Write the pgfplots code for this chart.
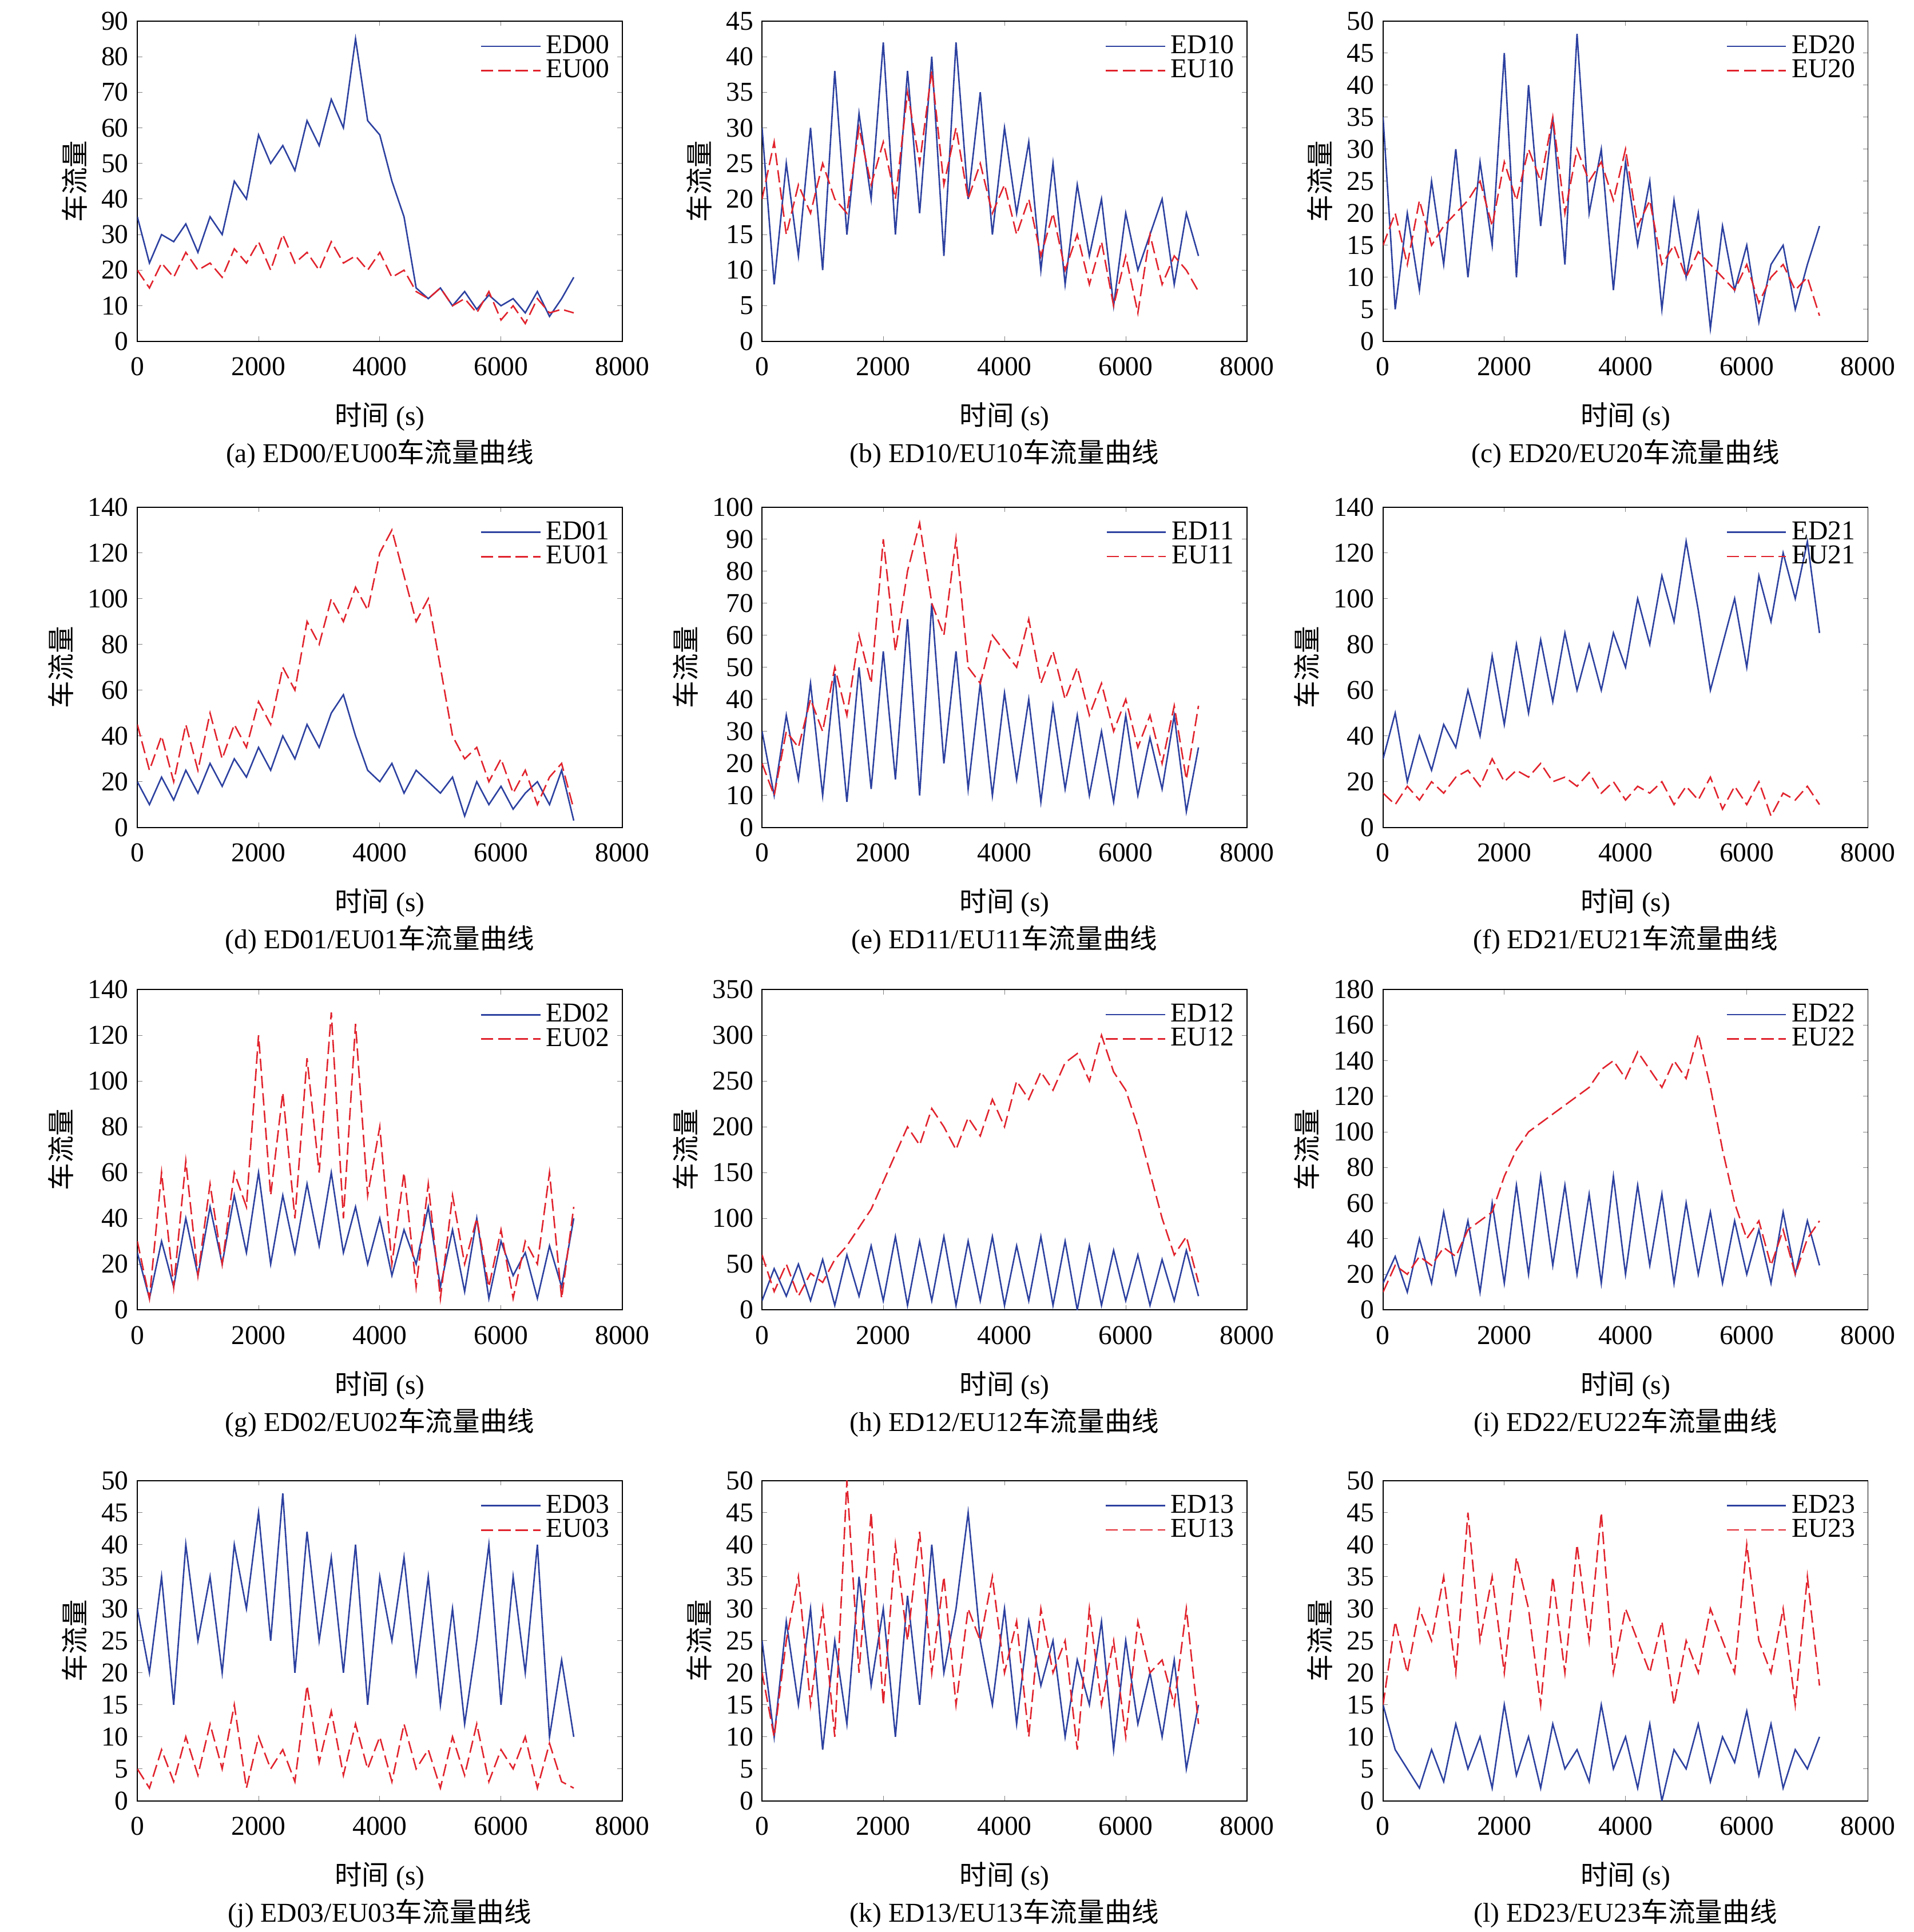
\documentclass[border=0pt]{standalone}
\usepackage{pgfplots}
\pgfplotsset{compat=1.18}
\usepackage{pgfplotstable}
\usepackage{fontspec}
\setmainfont{Liberation Serif}
\newfontfamily\cjk{Noto Sans CJK SC}
\definecolor{cb}{RGB}{45,65,160}
\definecolor{cr}{RGB}{225,35,45}
\pgfplotstableread{
d u
35 20
22 15
30 22
28 18
33 25
25 20
35 22
30 18
45 26
40 22
58 28
50 20
55 30
48 22
62 25
55 20
68 28
60 22
85 24
62 20
58 25
45 18
35 20
15 14
12 12
15 15
10 10
14 12
9 8
13 14
10 6
12 10
8 5
14 12
7 8
12 9
18 8
}\tA
\pgfplotstableread{
d u
30 20
8 28
25 15
12 22
30 18
10 25
38 20
15 18
32 30
20 22
42 28
15 20
38 35
18 25
40 38
12 22
42 30
20 20
35 25
15 18
30 22
18 15
28 20
10 12
25 18
8 10
22 15
12 8
20 14
5 5
18 12
10 4
15 15
20 8
8 12
18 10
12 7
}\tB
\pgfplotstableread{
d u
35 15
5 20
20 12
8 22
25 15
12 18
30 20
10 22
28 25
15 18
45 28
10 22
40 30
18 25
35 35
12 20
48 30
20 25
30 28
8 22
28 30
15 18
25 22
5 12
22 15
10 10
20 14
2 12
18 10
8 8
15 12
3 6
12 10
15 12
5 8
12 10
18 4
}\tC
\pgfplotstableread{
d u
20 45
10 25
22 40
12 20
25 45
15 25
28 50
18 30
30 45
22 35
35 55
25 45
40 70
30 60
45 90
35 80
50 100
58 90
40 105
25 95
20 120
28 130
15 110
25 90
20 100
15 70
22 40
5 30
20 35
10 20
18 30
8 15
15 25
20 10
10 22
25 28
3 8
}\tD
\pgfplotstableread{
d u
30 20
10 10
35 30
15 25
45 40
10 30
48 50
8 35
50 60
12 45
55 90
15 55
65 80
10 95
70 70
20 60
55 90
12 50
45 45
10 60
42 55
15 50
40 65
8 45
38 55
12 40
35 50
10 35
30 45
8 30
35 40
10 25
28 35
12 20
35 38
5 15
25 38
}\tE
\pgfplotstableread{
d u
30 15
50 10
20 18
40 12
25 20
45 15
35 22
60 25
40 18
75 30
45 20
80 25
50 22
82 28
55 20
85 22
60 18
80 24
60 15
85 20
70 12
100 18
80 15
110 20
90 10
125 18
95 12
60 22
80 8
100 18
70 10
110 20
90 5
120 15
100 12
125 18
85 10
}\tF
\pgfplotstableread{
d u
25 30
5 5
30 60
10 10
40 65
15 15
45 55
20 20
50 60
25 45
60 120
20 50
50 95
25 40
55 110
28 60
60 130
25 40
45 125
20 50
40 80
15 20
35 60
20 10
45 55
10 5
35 50
8 20
40 40
5 10
30 35
15 5
25 30
5 20
28 60
10 5
40 45
}\tG
\pgfplotstableread{
d u
10 60
45 20
15 50
50 15
10 40
55 30
5 55
60 70
15 90
70 110
10 140
80 170
5 200
75 180
10 220
80 200
5 175
75 210
10 190
80 230
5 200
70 250
10 230
80 260
5 240
75 270
0 280
70 250
5 300
65 260
10 240
60 200
5 150
55 100
10 60
65 80
15 30
}\tH
\pgfplotstableread{
d u
15 10
30 25
10 20
40 30
15 25
55 35
20 30
50 45
10 50
60 55
15 75
70 90
20 100
75 105
25 110
70 115
20 120
65 125
15 135
75 140
20 130
70 145
25 135
65 125
15 140
60 130
20 155
55 125
15 90
50 60
20 40
45 50
15 25
55 45
20 20
50 40
25 50
}\tI
\pgfplotstableread{
d u
30 5
20 2
35 8
15 3
40 10
25 4
35 12
20 5
40 15
30 2
45 10
25 5
48 8
20 3
42 18
25 6
38 14
20 4
40 12
15 5
35 10
25 3
38 12
20 5
35 8
15 2
30 10
12 4
25 12
40 3
15 8
35 5
20 10
40 2
10 9
22 3
10 2
}\tJ
\pgfplotstableread{
d u
25 20
10 10
28 25
15 35
30 15
8 30
25 10
12 50
35 20
18 45
30 15
10 40
32 25
15 42
40 20
20 35
30 15
45 30
25 25
15 35
30 20
12 28
28 10
18 30
25 20
10 25
22 8
15 30
28 15
8 25
25 10
12 28
20 20
10 22
22 15
5 30
15 12
}\tK
\pgfplotstableread{
d u
15 15
8 28
5 20
2 30
8 25
3 35
12 20
5 45
10 25
2 35
15 20
4 38
10 30
2 15
12 35
5 20
8 40
3 25
15 45
5 20
10 30
2 25
12 20
0 28
8 15
5 25
12 20
3 30
10 25
6 20
14 40
4 25
12 20
2 30
8 15
5 35
10 18
}\tL
\newcommand{\panel}[9]{%
\begin{axis}[at={(#1pt,-#2pt)},anchor=north west,scale only axis,
 width=196pt,height=129.5pt,xmin=0,xmax=8000,ymin=0,ymax=#3,
 xtick={0,2000,4000,6000,8000},ytick distance=#4,
 tick align=inside,major tick length=2pt,
 scaled x ticks=false,
 /pgf/number format/assume math mode=true,
 /pgf/number format/set thousands separator={},
 tick label style={font=\fontsize{11}{12}\selectfont},
 xticklabel style={yshift=-3pt},
 xlabel={\cjk 时间\rm\ (s)},ylabel={\cjk 车流量},
 label style={font=\fontsize{11}{12}\selectfont},
 xlabel style={yshift=-4pt},ylabel style={yshift=-1pt},
 legend style={draw=none,fill=none,at={(0.99,0.98)},anchor=north east,
   font=\fontsize{11}{12}\selectfont,row sep=-3pt,inner sep=1pt},
 legend cell align=left,
 legend image code/.code={\draw[##1] (0pt,0pt)--(24pt,0pt);},
 clip=true]
\addplot[cb,line width=0.6pt,no marks] table[x expr=\coordindex*200,y=d]{#5};
\addplot[cr,line width=0.6pt,dashed,dash pattern=on 5pt off 2pt,no marks] table[x expr=\coordindex*200,y=u]{#5};
\legend{#6,#7}
\end{axis}
\node[font=\fontsize{11}{12}\selectfont] at (#1pt+98pt,-#2pt-175pt) {#8 #6/#7\cjk 车流量曲线};
}
\begin{document}
\begin{tikzpicture}
\path[use as bounding box] (0,0) rectangle (773.5pt,-781pt);
\panel{55.5}{8.5}{90}{10}{\tA}{ED00}{EU00}{(a)}{}
\panel{308}{8.5}{45}{5}{\tB}{ED10}{EU10}{(b)}{}
\panel{559}{8.5}{50}{5}{\tC}{ED20}{EU20}{(c)}{}
\panel{55.5}{205}{140}{20}{\tD}{ED01}{EU01}{(d)}{}
\panel{308}{205}{100}{10}{\tE}{ED11}{EU11}{(e)}{}
\panel{559}{205}{140}{20}{\tF}{ED21}{EU21}{(f)}{}
\panel{55.5}{400}{140}{20}{\tG}{ED02}{EU02}{(g)}{}
\panel{308}{400}{350}{50}{\tH}{ED12}{EU12}{(h)}{}
\panel{559}{400}{180}{20}{\tI}{ED22}{EU22}{(i)}{}
\panel{55.5}{598.5}{50}{5}{\tJ}{ED03}{EU03}{(j)}{}
\panel{308}{598.5}{50}{5}{\tK}{ED13}{EU13}{(k)}{}
\panel{559}{598.5}{50}{5}{\tL}{ED23}{EU23}{(l)}{}
\end{tikzpicture}
\end{document}
